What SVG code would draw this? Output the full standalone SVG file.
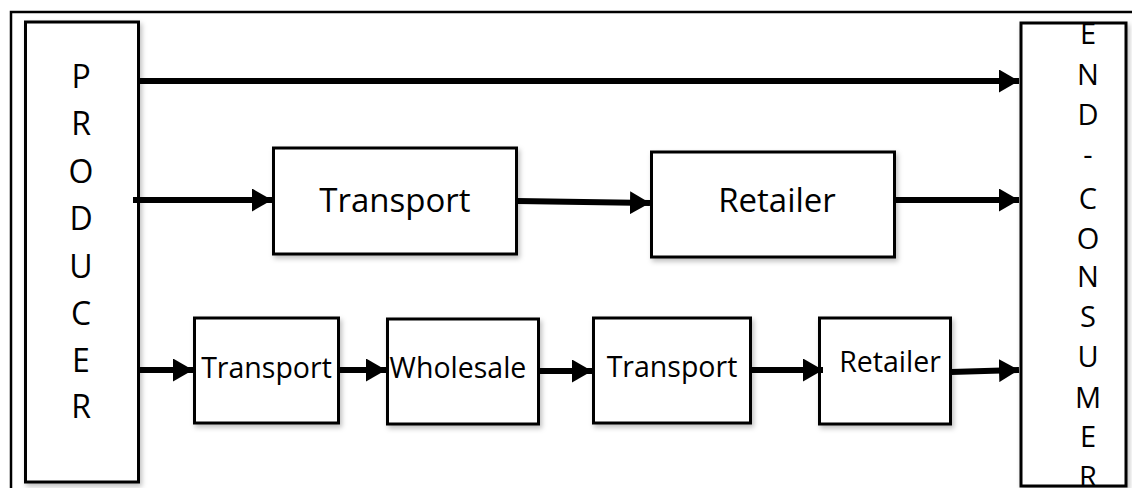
<svg xmlns="http://www.w3.org/2000/svg" width="1132" height="488" viewBox="0 0 1132 488">
  <defs>
    <filter id="sh" x="-10%" y="-10%" width="130%" height="130%">
      <feDropShadow dx="2" dy="3" stdDeviation="2.5" flood-color="#000" flood-opacity="0.25"/>
    </filter>
    <marker id="ah" markerUnits="userSpaceOnUse" markerWidth="21" markerHeight="23" refX="20" refY="11.5" orient="auto">
      <path d="M0,0 L20,11.5 L0,23 Z" fill="#000"/>
    </marker>
  </defs>
  <style>
    .box { fill: #fff; stroke: #000; stroke-width: 3; }
    .big { font-family: "Open Sans", "Liberation Sans", sans-serif; font-size: 33px; fill: #000; text-anchor: middle; }
    .small { font-family: "Open Sans", "Liberation Sans", sans-serif; font-size: 28.5px; fill: #000; text-anchor: middle; }
    .vp { font-family: "Open Sans", "Liberation Sans", sans-serif; font-size: 32px; fill: #000; text-anchor: middle; }
    .vc { font-family: "Open Sans", "Liberation Sans", sans-serif; font-size: 29px; fill: #000; text-anchor: middle; }
    .conn { stroke: #000; stroke-width: 6; fill: none; marker-end: url(#ah); }
  </style>
  <rect x="0" y="0" width="1132" height="488" fill="#fff"/>
  <rect x="11" y="12" width="1140" height="500" fill="none" stroke="#000" stroke-width="2.5"/>

  <g id="producer">
    <rect class="box" x="25.5" y="22" width="113" height="460" filter="url(#sh)"/>
    <text class="vp" x="81" y="88">P</text>
    <text class="vp" x="81" y="135">R</text>
    <text class="vp" x="81" y="183">O</text>
    <text class="vp" x="81" y="230">D</text>
    <text class="vp" x="81" y="278">U</text>
    <text class="vp" x="81" y="325">C</text>
    <text class="vp" x="81" y="372">E</text>
    <text class="vp" x="81" y="418">R</text>
  </g>

  <g id="end-consumer">
    <rect class="box" x="1021" y="23" width="105" height="463" filter="url(#sh)"/>
    <text class="vc" x="1088" y="44">E</text>
    <text class="vc" x="1088" y="85">N</text>
    <text class="vc" x="1088" y="125">D</text>
    <text class="vc" x="1088" y="165">-</text>
    <text class="vc" x="1088" y="209">C</text>
    <text class="vc" x="1088" y="249">O</text>
    <text class="vc" x="1088" y="287">N</text>
    <text class="vc" x="1088" y="327">S</text>
    <text class="vc" x="1088" y="367">U</text>
    <text class="vc" x="1088" y="408">M</text>
    <text class="vc" x="1088" y="447">E</text>
    <text class="vc" x="1088" y="487">R</text>
  </g>

  <g id="transport-1">
    <rect class="box" x="273.5" y="148" width="243" height="106" filter="url(#sh)"/>
    <text class="big" x="395" y="212">Transport</text>
  </g>
  <g id="retailer-1">
    <rect class="box" x="651.5" y="152" width="243" height="105" filter="url(#sh)"/>
    <text class="big" x="777" y="212">Retailer</text>
  </g>

  <g id="transport-2">
    <rect class="box" x="194.5" y="318" width="144" height="105" filter="url(#sh)"/>
    <text class="small" x="266.5" y="378">Transport</text>
  </g>
  <g id="wholesale">
    <rect class="box" x="387.5" y="319" width="151" height="105" filter="url(#sh)"/>
    <text class="small" x="458" y="378">Wholesale</text>
  </g>
  <g id="transport-3">
    <rect class="box" x="593.5" y="318" width="157" height="105" filter="url(#sh)"/>
    <text class="small" x="672" y="377">Transport</text>
  </g>
  <g id="retailer-2">
    <rect class="box" x="819.5" y="318" width="131" height="106" filter="url(#sh)"/>
    <text class="small" x="890" y="372">Retailer</text>
  </g>

  <g id="connectors">
    <line class="conn" x1="138" y1="81" x2="1019" y2="81"/>
    <line class="conn" x1="133" y1="200" x2="272" y2="200"/>
    <line class="conn" x1="517" y1="201" x2="650" y2="203"/>
    <line class="conn" x1="895" y1="200" x2="1019" y2="200"/>
    <line class="conn" x1="138" y1="370" x2="193" y2="370"/>
    <line class="conn" x1="339" y1="370" x2="386" y2="370"/>
    <line class="conn" x1="539" y1="371" x2="592" y2="371"/>
    <line class="conn" x1="751" y1="370" x2="823" y2="370"/>
    <line class="conn" x1="951" y1="372" x2="1019" y2="370"/>
  </g>
</svg>
